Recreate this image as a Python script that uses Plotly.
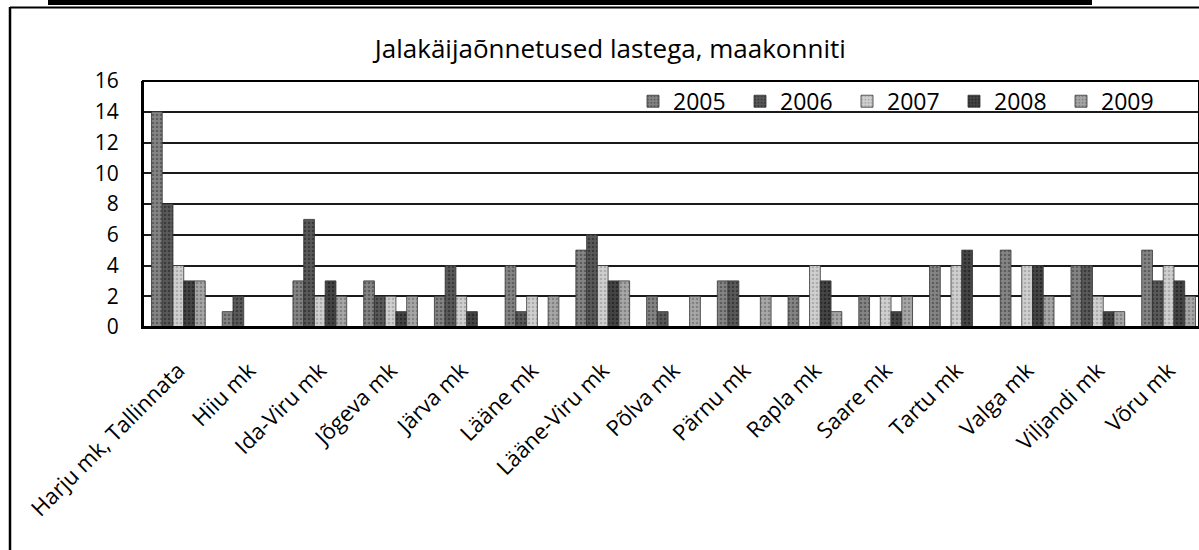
import plotly.graph_objects as go

categories = ["Harju mk, Tallinnata", "Hiiu mk", "Ida-Viru mk", "Jõgeva mk", "Järva mk",
              "Lääne mk", "Lääne-Viru mk", "Põlva mk", "Pärnu mk", "Rapla mk",
              "Saare mk", "Tartu mk", "Valga mk", "Viljandi mk", "Võru mk"]
years = ["2005", "2006", "2007", "2008", "2009"]
v2005 = [14, 1, 3, 3, 2, 4, 5, 2, 3, 2, 2, 4, 5, 4, 5]
v2006 = [8, 2, 7, 2, 4, 1, 6, 1, 3, 0, 0, 0, 0, 4, 3]
v2007 = [4, 0, 2, 2, 2, 2, 4, 0, 0, 4, 2, 4, 4, 2, 4]
v2008 = [3, 0, 3, 1, 1, 0, 3, 0, 0, 3, 1, 5, 4, 1, 3]
v2009 = [3, 0, 2, 2, 0, 2, 3, 2, 2, 1, 2, 0, 2, 1, 2]
series = [v2005, v2006, v2007, v2008, v2009]

bg_colors = ["#858585", "#5a5a5a", "#d0d0d0", "#454545", "#a8a8a8"]
fg_colors = ["#353535", "#1a1a1a", "#888888", "#101010", "#5c5c5c"]

fig = go.Figure()
for name, vals, bc, fc in zip(years, series, bg_colors, fg_colors):
    fig.add_trace(go.Bar(
        x=categories, y=vals, name=name,
        marker=dict(color=bc, line=dict(color="#333333", width=0.8),
                    pattern=dict(shape=".", fgcolor=fc, bgcolor=bc, size=4, solidity=0.35)),
    ))

FONT = "Open Sans"
W, H = 1199, 550
L, T, B = 143, 81, 223
pw, ph = W - L, H - T - B

fig.update_layout(
    width=W, height=H,
    margin=dict(l=L, r=0, t=T, b=B),
    paper_bgcolor="white", plot_bgcolor="white",
    barmode="group", bargap=0.24, bargroupgap=0,
    font=dict(family=FONT, color="black"),
    title=dict(text="Jalakäijaõnnetused lastega, maakonniti", x=0.509, xanchor="center",
               y=0.912, yanchor="middle", yref="container",
               font=dict(family=FONT, size=26, color="black")),
    showlegend=True,
    legend=dict(orientation="h", x=(633 - L) / pw, xanchor="left", y=1.005, yanchor="top",
                bgcolor="rgba(0,0,0,0)", font=dict(family=FONT, size=23, color="black"),
                entrywidth=62, itemwidth=30, traceorder="normal"),
    xaxis=dict(range=[-0.5, 14.43], tickangle=-45, tickfont=dict(family=FONT, size=22),
               showline=True, linecolor="black", linewidth=2, ticks="", showgrid=False,
               ticklabelstandoff=20),
    yaxis=dict(range=[0, 16], dtick=2, tickfont=dict(family=FONT, size=21),
               showgrid=True, gridcolor="#1a1a1a", gridwidth=1.5,
               showline=True, linecolor="black", linewidth=2, ticks="",
               ticklabelstandoff=18, zeroline=False),
    shapes=[
        dict(type="rect", xref="paper", yref="paper", x0=0, x1=1, y0=0, y1=1,
             line=dict(color="black", width=2), fillcolor="rgba(0,0,0,0)", layer="above"),
    ],
)

# outer chart frame and scan bar (pixel positions converted to paper coords)
def px(x): return (x - L) / pw
def py(y): return (H - B - y) / ph
fig.add_shape(type="line", xref="paper", yref="paper", x0=px(10), x1=px(10), y0=py(7), y1=py(550),
              line=dict(color="black", width=2.5))
fig.add_shape(type="line", xref="paper", yref="paper", x0=px(10), x1=px(1199), y0=py(7.5), y1=py(7.5),
              line=dict(color="black", width=2))
fig.add_shape(type="rect", xref="paper", yref="paper", x0=px(48), x1=px(1092), y0=py(0), y1=py(5),
              line=dict(width=0), fillcolor="black")

fig.write_html("out.html", config={"displayModeBar": False},
               post_script="document.body.style.margin='0px';")
